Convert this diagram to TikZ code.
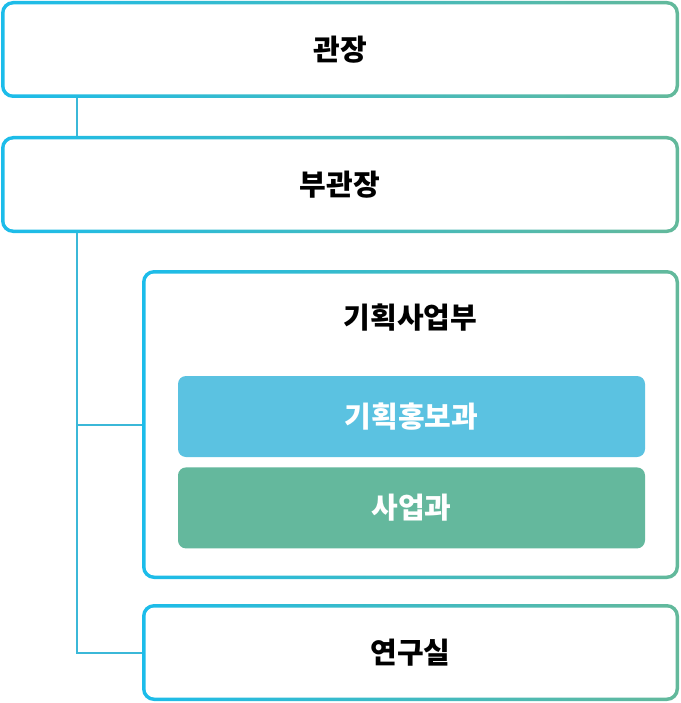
\documentclass[tikz,border=0pt]{standalone}
\usepackage{fontspec}
\newfontfamily\krfont{Noto Sans CJK KR}
\usepackage{tikz}
\usetikzlibrary{positioning}

\definecolor{edgecyan}{HTML}{1CBCEA}
\definecolor{edgegreen}{HTML}{63B99B}
\definecolor{linkcyan}{HTML}{3BB8D8}
\definecolor{teamblue}{HTML}{5BC2E1}
\definecolor{teamgreen}{HTML}{64B89D}

\begin{document}
\begin{tikzpicture}[x=1pt,y=1pt,node distance=135pt,
    org box/.style={rounded corners=12pt,left color=edgecyan,right color=edgegreen,inner sep=0pt,
        font=\krfont\bfseries\fontsize{29}{32}\selectfont,text=black,
        path picture={\fill[white,rounded corners=9pt]
            ([shift={(3.5pt,3.5pt)}]path picture bounding box.south west) rectangle
            ([shift={(-3.5pt,-3.5pt)}]path picture bounding box.north east);}},
    team box/.style={rounded corners=8pt,inner sep=0pt,minimum width=467pt,minimum height=81pt,
        font=\krfont\bfseries\fontsize{29}{32}\selectfont,text=white},
    link/.style={draw=linkcyan,line width=2pt}]

                \useasboundingbox (0,0) rectangle (680,-703);

                \node[org box, minimum width=678pt, minimum height=97pt] (gwanjang) at (340,-49.5) {관장};
                \node[org box, minimum width=678pt, minimum height=97pt] (bugwanjang) [below of = gwanjang] {부관장};
                \node[org box, minimum width=537pt, minimum height=309pt] (gihoek) at (410.5,-424.5) {};
                \node[font=\krfont\bfseries\fontsize{29}{32}\selectfont] (gihoektitle) at ([yshift=-48pt]gihoek.north) {기획사업부};
                \node[team box, fill=teamblue] (hongbo) at (411.5,-416.5) {기획홍보과};
                \node[team box, fill=teamgreen, below=10pt of hongbo] (saeop) {사업과};
                \node[org box, minimum width=537pt, minimum height=97pt] (yeongu) at (410.5,-652.5) {연구실};

                \coordinate (trunk) at (77,0);

                \draw[link] (gwanjang.south -| trunk) -- (bugwanjang.north -| trunk);
                \draw[link] (bugwanjang.south -| trunk) |- (yeongu.west);
                \draw[link] (trunk |- gihoek.west) -- (gihoek.west);

                ;
            \end{tikzpicture}
\end{document}
